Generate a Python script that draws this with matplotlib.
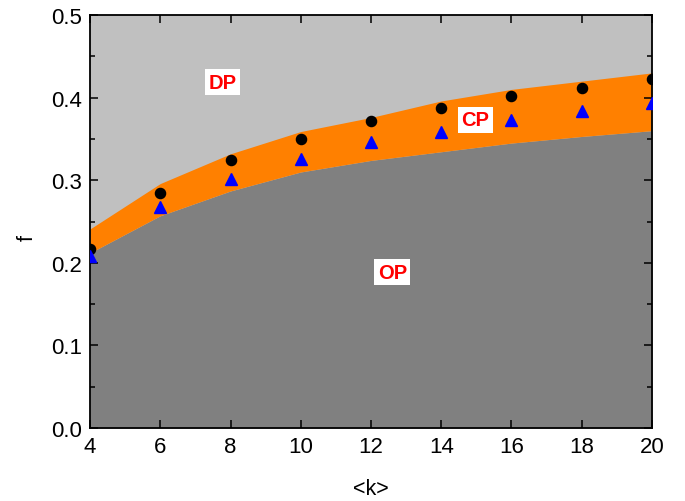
import matplotlib.pyplot as plt

plt.rcParams['font.family'] = ['Liberation Sans', 'DejaVu Sans']

# degree values
k = [4, 6, 8, 10, 12, 14, 16, 18, 20]

# phase boundaries
cp_upper = [0.241, 0.296, 0.332, 0.359, 0.376, 0.396, 0.410, 0.420, 0.430]
cp_lower = [0.212, 0.257, 0.287, 0.310, 0.324, 0.3345, 0.345, 0.353, 0.360]

# simulation points
f_circles = [0.217, 0.284, 0.324, 0.350, 0.372, 0.388, 0.402, 0.412, 0.422]
f_triangles = [0.208, 0.268, 0.301, 0.326, 0.346, 0.359, 0.373, 0.384, 0.393]

fig = plt.figure(figsize=(6.85, 5.02), dpi=100)
ax = fig.add_axes([0.1314, 0.1454, 0.8204, 0.8226])

ax.set_facecolor('#C0C0C0')
ax.fill_between(k, 0, cp_lower, color='#808080', linewidth=0)
ax.fill_between(k, cp_lower, cp_upper, color='#FF8000', linewidth=0)

ax.plot(k, f_circles, 'o', color='black', markersize=7.3, zorder=3)
ax.plot(k, f_triangles, '^', color='#0000FF', markersize=8, zorder=3)

box = dict(facecolor='white', edgecolor='none', pad=2.5)
ax.text(7.78, 0.4185, 'DP', color='red', fontsize=14.5, fontweight='bold',
        ha='center', va='center', bbox=box)
ax.text(14.97, 0.373, 'CP', color='red', fontsize=14.5, fontweight='bold',
        ha='center', va='center', bbox=box)
ax.text(12.61, 0.1885, 'OP', color='red', fontsize=14.5, fontweight='bold',
        ha='center', va='center', bbox=box)

ax.set_xlim(4, 20)
ax.set_ylim(0, 0.5)
ax.set_xticks(range(4, 21, 2))
ax.set_yticks([0.0, 0.1, 0.2, 0.3, 0.4, 0.5])
ax.set_yticklabels(['0.0', '0.1', '0.2', '0.3', '0.4', '0.5'])
ax.set_yticks([0.05, 0.15, 0.25, 0.35, 0.45], minor=True)
ax.tick_params(which='both', direction='in', top=True, right=True,
               labelsize=16, width=1.1)
ax.tick_params(which='major', length=6, pad=6)
ax.tick_params(which='minor', length=3.6)
for s in ax.spines.values():
    s.set_linewidth(1.3)

ax.set_xlabel('<k>', fontsize=15.5, labelpad=15)
ax.set_ylabel('f', fontsize=15.5)
ax.yaxis.set_label_coords(-0.093, 0.463)

fig.savefig('out.png', dpi=100)
